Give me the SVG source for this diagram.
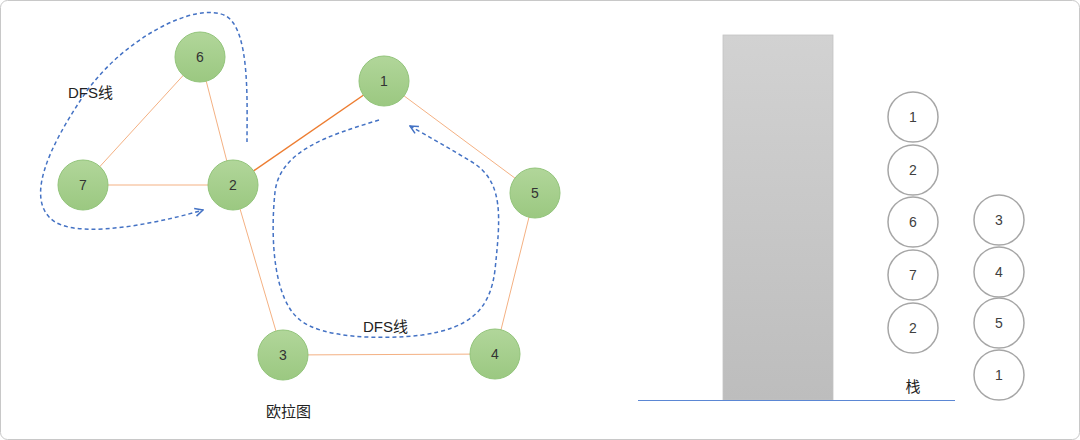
<svg xmlns="http://www.w3.org/2000/svg" width="1080" height="440" viewBox="0 0 1080 440">
<style>
.node circle{fill:url(#g);stroke:#92c47a;stroke-width:1}
.node text,.st text{font-family:"Liberation Sans",Arial,sans-serif;font-size:14px;text-anchor:middle;dominant-baseline:central}
.node text{fill:#333}
.edge{stroke:#f4b183;stroke-width:1;fill:none}
.dfs{stroke:#4472c4;stroke-width:1.5;fill:none;stroke-dasharray:4 3}
.st circle{fill:#fff;stroke:#a6a6a6;stroke-width:1.5}
.st text{fill:#404040}
.lbl{font-family:"Liberation Sans","Noto Sans CJK SC",sans-serif;font-size:15px;fill:#222}
</style>
<defs>
<linearGradient id="g" x1="0" y1="0" x2="0" y2="1"><stop offset="0" stop-color="#b1d69a"/><stop offset="1" stop-color="#9bc881"/></linearGradient>
<linearGradient id="bar" x1="0" y1="0" x2="0" y2="1"><stop offset="0" stop-color="#d2d2d2"/><stop offset="1" stop-color="#bdbdbd"/></linearGradient>
<marker id="arr" viewBox="0 0 10 10" refX="9" refY="5" markerWidth="10" markerHeight="10" markerUnits="userSpaceOnUse" orient="auto"><path d="M1,1 L9,5 L1,9" fill="none" stroke="#4472c4" stroke-width="1.5"/></marker>
</defs>
<rect x="0.5" y="0.5" width="1079" height="439" rx="7" fill="#fff" stroke="#c8c8c8" stroke-width="1"/>
<g id="connectors">
<line class="edge" x1="200" y1="57" x2="233" y2="185"/>
<line class="edge" x1="200" y1="57" x2="83" y2="185"/>
<line class="edge" x1="83" y1="185" x2="233" y2="185"/>
<line x1="233" y1="185" x2="384" y2="81" stroke="#ed7d31" stroke-width="1.5"/>
<line class="edge" x1="384" y1="81" x2="535" y2="193"/>
<line class="edge" x1="535" y1="193" x2="495" y2="354"/>
<line class="edge" x1="495" y1="354" x2="283" y2="355"/>
<line class="edge" x1="283" y1="355" x2="233" y2="185"/>
<path class="dfs" marker-end="url(#arr)" d="M247,142 C247,100 250,30 226,16 C196,0 120,40 82,98 C52,143 22,200 55,222 C85,240 170,220 203,210"/>
<path class="dfs" marker-end="url(#arr)" d="M379,120 C330,135 280,150 275,192 C270,240 274,300 300,320 C322,338 380,340 422,335 C470,328 490,310 495,270 C500,220 505,182 472,162 C452,150 428,136 410,126"/>
</g>
<g id="node6" class="node"><circle cx="200" cy="57" r="25"/><text x="200" y="57">6</text></g>
<g id="node7" class="node"><circle cx="83" cy="185" r="25"/><text x="83" y="185">7</text></g>
<g id="node2" class="node"><circle cx="233" cy="185" r="25"/><text x="233" y="185">2</text></g>
<g id="node1" class="node"><circle cx="384" cy="81" r="25"/><text x="384" y="81">1</text></g>
<g id="node5" class="node"><circle cx="535" cy="193" r="25"/><text x="535" y="193">5</text></g>
<g id="node4" class="node"><circle cx="495" cy="354" r="25"/><text x="495" y="354">4</text></g>
<g id="node3" class="node"><circle cx="283" cy="355" r="25"/><text x="283" y="355">3</text></g>
<text class="lbl" x="68" y="98">DFS线</text>
<text class="lbl" x="363" y="332">DFS线</text>
<text class="lbl" x="266" y="417">欧拉图</text>
<g id="stack">
<rect x="723" y="35" width="110" height="365" fill="url(#bar)" stroke="#c4c4c4" stroke-width="0.8"/>
<line x1="638" y1="400.5" x2="955" y2="400.5" stroke="#5b87d4" stroke-width="1"/>
<text class="lbl" x="913" y="392" text-anchor="middle">栈</text>
</g>
<g id="s1" class="st"><circle cx="913" cy="117" r="25"/><text x="913" y="117">1</text></g>
<g id="s2" class="st"><circle cx="913" cy="170" r="25"/><text x="913" y="170">2</text></g>
<g id="s3" class="st"><circle cx="913" cy="222" r="25"/><text x="913" y="222">6</text></g>
<g id="s4" class="st"><circle cx="913" cy="275" r="25"/><text x="913" y="275">7</text></g>
<g id="s5" class="st"><circle cx="913" cy="328" r="25"/><text x="913" y="328">2</text></g>
<g id="t1" class="st"><circle cx="999" cy="220" r="25"/><text x="999" y="220">3</text></g>
<g id="t2" class="st"><circle cx="999" cy="272" r="25"/><text x="999" y="272">4</text></g>
<g id="t3" class="st"><circle cx="999" cy="323" r="25"/><text x="999" y="323">5</text></g>
<g id="t4" class="st"><circle cx="999" cy="375" r="25"/><text x="999" y="375">1</text></g>
</svg>
